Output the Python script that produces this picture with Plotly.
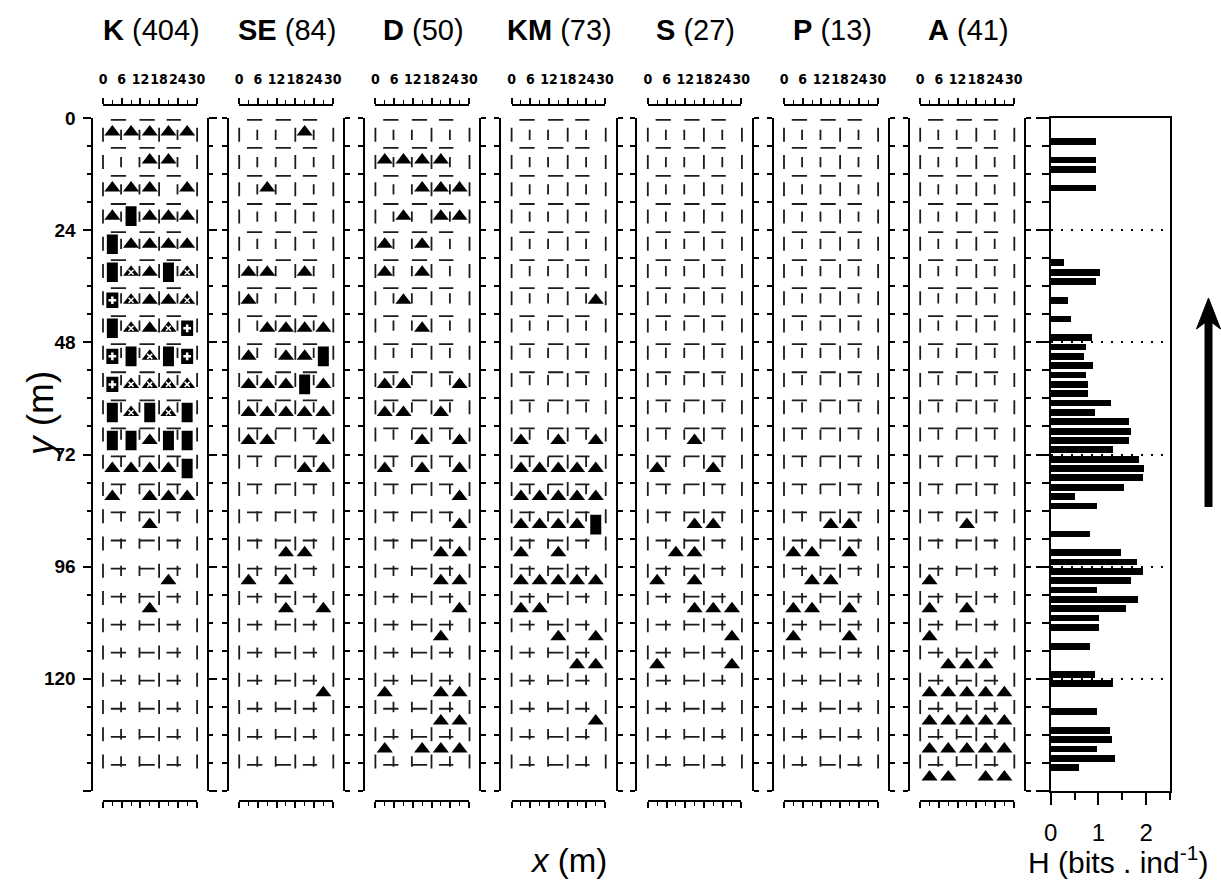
import plotly.graph_objects as go

# ---------------------------------------------------------------- data
PANEL_NAMES = ["K", "SE", "D", "KM", "S", "P", "A"]
PANEL_COUNTS = [404, 84, 50, 73, 27, 13, 41]

# Quadrat maps: 24 rows of 6 m (y = 0-144 m) x 5 columns of 6 m (x = 0-30 m)
# T = triangle, R = filled rectangle, C = crossed square, W = hatched triangle, . = empty
K_MAP = ["TTTTT", "..TT.", "TTT.T", "TRTTT", "RTTTT", "RWTRW", "CWTTW", "RWTWC",
         "CRWRC", "CWWWW", "RWRWR", "RRTRR", "TTTTR", "T.TTT", "..T..", ".....",
         "...T.", "..T..", ".....", ".....", ".....", ".....", ".....", "....."]
SE_MAP = ["...T.", ".....", ".T...", ".....", ".....", "TT.T.", "T....", ".TTTT",
          "T.TTR", "TTTRT", "TTTTT", "TT..T", "...TT", ".....", ".....", "..TT.",
          "T.T..", "..T.T", ".....", ".....", "....T", ".....", ".....", "....."]
D_MAP = [".....", "TTTT.", "..TTT", ".T.TT", "T.T..", "T.T..", ".T...", "..T..",
         ".....", "TT..T", "TT.T.", "..T.T", "T.T.T", "....T", "....T", "...TT",
         "...TT", "....T", "...T.", ".....", "T..TT", "...TT", "T.TTT", "....."]
KM_MAP = [".....", ".....", ".....", ".....", ".....", ".....", "....T", ".....",
          ".....", ".....", ".....", "T.T.T", "TTTTT", "TTTTT", "TTTTR", "T.T..",
          "TTTTT", "TT...", "..T.T", "...TT", ".....", "....T", ".....", "....."]
S_MAP = [".....", ".....", ".....", ".....", ".....", ".....", ".....", ".....",
         ".....", ".....", ".....", "..T..", "T..T.", ".....", "..TT.", ".TT..",
         "T.T..", "..TTT", "....T", "T...T", ".....", ".....", ".....", "....."]
P_MAP = [".....", ".....", ".....", ".....", ".....", ".....", ".....", ".....",
         ".....", ".....", ".....", ".....", ".....", ".....", "..TT.", "TT.T.",
         ".TT..", "TT.T.", "T..T.", ".....", ".....", ".....", ".....", "....."]
A_MAP = [".....", ".....", ".....", ".....", ".....", ".....", ".....", ".....",
         ".....", ".....", ".....", ".....", ".....", ".....", "..T..", ".....",
         "T....", "T.T..", "T....", ".TTT.", "TTTTT", "TTTTT", "TTTTT", "TT.TT"]
PANEL_MAPS = [K_MAP, SE_MAP, D_MAP, KM_MAP, S_MAP, P_MAP, A_MAP]

# Diversity H (bits per individual) for 2 m bands, band centre depth (m)
H_DEPTH = [5, 9, 11, 15, 31, 33, 35, 39, 43, 47, 49, 51, 53, 55, 57, 59, 61, 63,
           65, 67, 69, 71, 73, 75, 77, 79, 81, 83, 89, 93, 95, 97, 99, 101, 103,
           105, 107, 109, 113, 119, 121, 127, 131, 133, 135, 137, 139]
H_VALUE = [0.94, 0.94, 0.94, 0.94, 0.28, 1.03, 0.94, 0.35, 0.42, 0.85, 0.74, 0.69,
           0.89, 0.74, 0.78, 0.77, 1.25, 0.93, 1.64, 1.67, 1.63, 1.30, 1.85, 1.95,
           1.93, 1.52, 0.51, 0.96, 0.82, 1.46, 1.80, 1.92, 1.68, 0.97, 1.82, 1.58,
           1.00, 1.00, 0.82, 0.93, 1.30, 0.97, 1.24, 1.28, 0.97, 1.35, 0.59]

X_TICKS = [0, 6, 12, 18, 24, 30]
Y_TICKS = [0, 24, 48, 72, 96, 120]
H_TICKS = [0, 1, 2]

# ---------------------------------------------------------------- geometry
W, H = 1221, 882
CELL = 6.0
Y_MAX = 144
SX = 93.5 / 30.0                       # px per metre across a map
X0 = [103 + 136.2 * i for i in range(7)]   # pixel of x = 0 in each map
Y_TOP, Y_BOT = 118, 791

NARROW = "Liberation Sans Narrow, Arial Narrow, DejaVu Sans Condensed, Liberation Sans"
SANS = "Liberation Sans, Arial, sans-serif"
INK = "black"


def fx(p):
    return p / W


def fy(p):
    return 1 - p / H


YDOM = [fy(Y_BOT), fy(Y_TOP)]


def stake_pattern():
    """Short stake and tape marks drawn in every map."""
    xs, ys = [], []
    for k in range(24):
        yk = 3.6 + 5.83 * k
        for xv, half in ((0, 1.5), (18, 1.5), (30.2, 1.5), (5.8, 1.1), (11.7, 1.1), (23.9, 1.1)):
            xs += [xv, xv, None]
            ys += [yk - half, yk + half, None]
    for j in range(24):
        yj = CELL * j + 0.4
        for a, b in ((2.5, 7.4), (11.7, 16.6), (20.4, 25.0)):
            xs += [a, b, None]
            ys += [yj, yj, None]
    return xs, ys


def cells(grid, code):
    xs, ys = [], []
    for r, row in enumerate(grid):
        for c, ch in enumerate(row):
            if ch == code:
                xs.append(CELL * c + CELL / 2)
                ys.append(CELL * r + CELL / 2)
    return xs, ys


def label(x, y, text, size, **kw):
    fig.add_annotation(x=fx(x), y=fy(y), xref="paper", yref="paper", text=text,
                       showarrow=False, xanchor="center", yanchor="middle",
                       font=dict(family=SANS, size=size, color=INK), **kw)


fig = go.Figure()
layout = {}
pat_x, pat_y = stake_pattern()

for i, (name, grid) in enumerate(zip(PANEL_NAMES, PANEL_MAPS)):
    n = i + 1
    sfx = "" if n == 1 else str(n)
    xref, yref = "x" + sfx, "y" + sfx
    x0 = X0[i]

    layout["xaxis" + sfx] = dict(
        domain=[fx(x0 - 10.5), fx(x0 + 104)], range=[-10.5 / SX, 30 + 10.5 / SX],
        anchor=yref, visible=False, fixedrange=True, automargin=False)

    yax = dict(domain=YDOM, range=[Y_MAX, 0], anchor=xref, showline=True,
               linecolor=INK, linewidth=2, mirror="ticks", ticks="outside",
               tickcolor=INK, tickwidth=1.5, showgrid=False, zeroline=False,
               fixedrange=True, automargin=False)
    if i == 0:
        yax.update(tickvals=Y_TICKS + [144], ticktext=[str(v) for v in Y_TICKS] + [" "],
                   ticklen=8, showticklabels=True, ticklabelstandoff=3,
                   tickfont=dict(family=SANS, size=19, color=INK, weight="bold"),
                   minor=dict(dtick=6, tick0=0, ticklen=4, tickwidth=1.5,
                              ticks="outside", tickcolor=INK, showgrid=False))
    else:
        yax.update(tickvals=list(range(0, Y_MAX + 1, 6)), ticklen=5, showticklabels=False)
    layout["yaxis" + sfx] = yax

    # top scale with labels, bottom scale without
    for m, side, pos, labels in ((8 + i, "top", fy(105), True), (15 + i, "bottom", fy(801), False)):
        layout["xaxis%d" % m] = dict(
            domain=[fx(x0), fx(x0 + 93.5)], range=[0, 30], anchor="free", position=pos,
            side=side, showline=True, linecolor=INK, linewidth=1.5, ticks="outside",
            tickvals=X_TICKS, ticktext=[str(v) for v in X_TICKS], ticklen=6,
            tickwidth=1.5, tickcolor=INK, showticklabels=labels, ticklabelstandoff=9,
            tickangle=0, automargin=False,
            tickfont=dict(family=NARROW, size=14, color=INK, weight="bold"),
            minor=dict(dtick=3, tick0=0, ticklen=4, tickwidth=1.2, ticks="outside",
                       tickcolor=INK, showgrid=False),
            showgrid=False, zeroline=False, fixedrange=True)
        fig.add_trace(go.Scatter(x=[None], y=[None], xaxis="x%d" % m, yaxis=yref,
                                 mode="markers", showlegend=False, hoverinfo="skip"))

    # stake / tape marks
    fig.add_trace(go.Scatter(x=pat_x, y=pat_y, mode="lines", xaxis=xref, yaxis=yref,
                             line=dict(color="#1c1c1c", width=1.8), showlegend=False,
                             hoverinfo="skip"))

    # triangles (plain and hatched)
    tx, ty = cells(grid, "T")
    wx, wy = cells(grid, "W")
    fig.add_trace(go.Scatter(x=tx + wx, y=ty + wy, mode="markers", xaxis=xref, yaxis=yref,
                             marker=dict(symbol="triangle-up", size=14, color=INK,
                                         line=dict(width=0)),
                             showlegend=False, hoverinfo="skip"))
    if wx:
        fig.add_trace(go.Scatter(x=wx, y=wy, mode="markers", xaxis=xref, yaxis=yref,
                                 marker=dict(symbol="x-thin", size=5, color="white",
                                             line=dict(color="white", width=1.5)),
                                 showlegend=False, hoverinfo="skip"))
    # rectangles
    rx, ry = cells(grid, "R")
    if rx:
        fig.add_trace(go.Scatter(x=rx, y=ry, mode="markers", xaxis=xref, yaxis=yref,
                                 marker=dict(symbol="line-ns", size=14, color=INK,
                                             line=dict(color=INK, width=11)),
                                 showlegend=False, hoverinfo="skip"))
    # crossed squares
    cx, cy = cells(grid, "C")
    if cx:
        fig.add_trace(go.Scatter(x=cx, y=cy, mode="markers", xaxis=xref, yaxis=yref,
                                 marker=dict(symbol="line-ns", size=11, color=INK,
                                             line=dict(color=INK, width=12)),
                                 showlegend=False, hoverinfo="skip"))
        fig.add_trace(go.Scatter(x=cx, y=cy, mode="markers", xaxis=xref, yaxis=yref,
                                 marker=dict(symbol="cross-thin", size=5.5, color="white",
                                             line=dict(color="white", width=2.5)),
                                 showlegend=False, hoverinfo="skip"))

    label(x0 + 48, 30, "<b>%s</b> (%d)" % (name, PANEL_COUNTS[i]), 29)

# ---------------------------------------------------------------- diversity panel
layout["xaxis22"] = dict(
    domain=[fx(1050.7), fx(1170)], range=[0, 2.5], anchor="y8", side="bottom",
    showline=True, mirror=True, linecolor=INK, linewidth=1.5, ticks="outside",
    tickvals=H_TICKS, ticklen=12, tickwidth=1.5, tickcolor=INK, ticklabelstandoff=7,
    tickfont=dict(family=SANS, size=24, color=INK), automargin=False,
    minor=dict(tickvals=[0.5, 1.5, 2.5], ticklen=7, tickwidth=1.5, ticks="outside",
               tickcolor=INK, showgrid=False),
    showgrid=False, zeroline=False, fixedrange=True)
layout["yaxis8"] = dict(
    domain=YDOM, range=[Y_MAX, 0], anchor="x22", showline=True, mirror=True,
    linecolor=INK, linewidth=1.5, ticks="outside", tickvals=list(range(0, Y_MAX + 1, 24)),
    ticklen=13, tickwidth=1.5, tickcolor=INK, showticklabels=False, automargin=False,
    minor=dict(dtick=6, tick0=0, ticklen=7, tickwidth=1.5, ticks="outside",
               tickcolor=INK, showgrid=False),
    showgrid=True, gridcolor=INK, gridwidth=2, griddash="2px,8px", zeroline=False,
    fixedrange=True)

fig.add_trace(go.Bar(x=H_VALUE, y=H_DEPTH, orientation="h", width=1.45,
                     marker=dict(color=INK, line=dict(width=0)),
                     xaxis="x22", yaxis="y8", showlegend=False, hoverinfo="skip"))

# ---------------------------------------------------------------- labels and arrow
label(40, 415, "<i>y</i> (m)", 37, textangle=-90)
label(568, 860, "<i>x</i> (m)", 33)
label(1118, 860, "H (bits . ind<sup>-1</sup>)", 30)

fig.add_shape(type="line", xref="paper", yref="paper", x0=fx(1208.5), x1=fx(1208.5),
              y0=fy(507), y1=fy(318), line=dict(color=INK, width=8))
head = [(1196.5, 329), (1208.5, 298), (1220.5, 329), (1208.5, 320)]
fig.add_shape(type="path", xref="paper", yref="paper",
              path="M " + " L ".join("%.5f,%.5f" % (fx(a), fy(b)) for a, b in head) + " Z",
              fillcolor=INK, line=dict(color=INK, width=1))

fig.update_layout(
    template="none",
    width=W, height=H, margin=dict(l=0, r=0, t=0, b=0, pad=0, autoexpand=False),
    autosize=False, paper_bgcolor="white", plot_bgcolor="rgba(0,0,0,0)",
    showlegend=False, font=dict(family=SANS, color=INK), bargap=0, **layout)

fig.write_html("out.html")
